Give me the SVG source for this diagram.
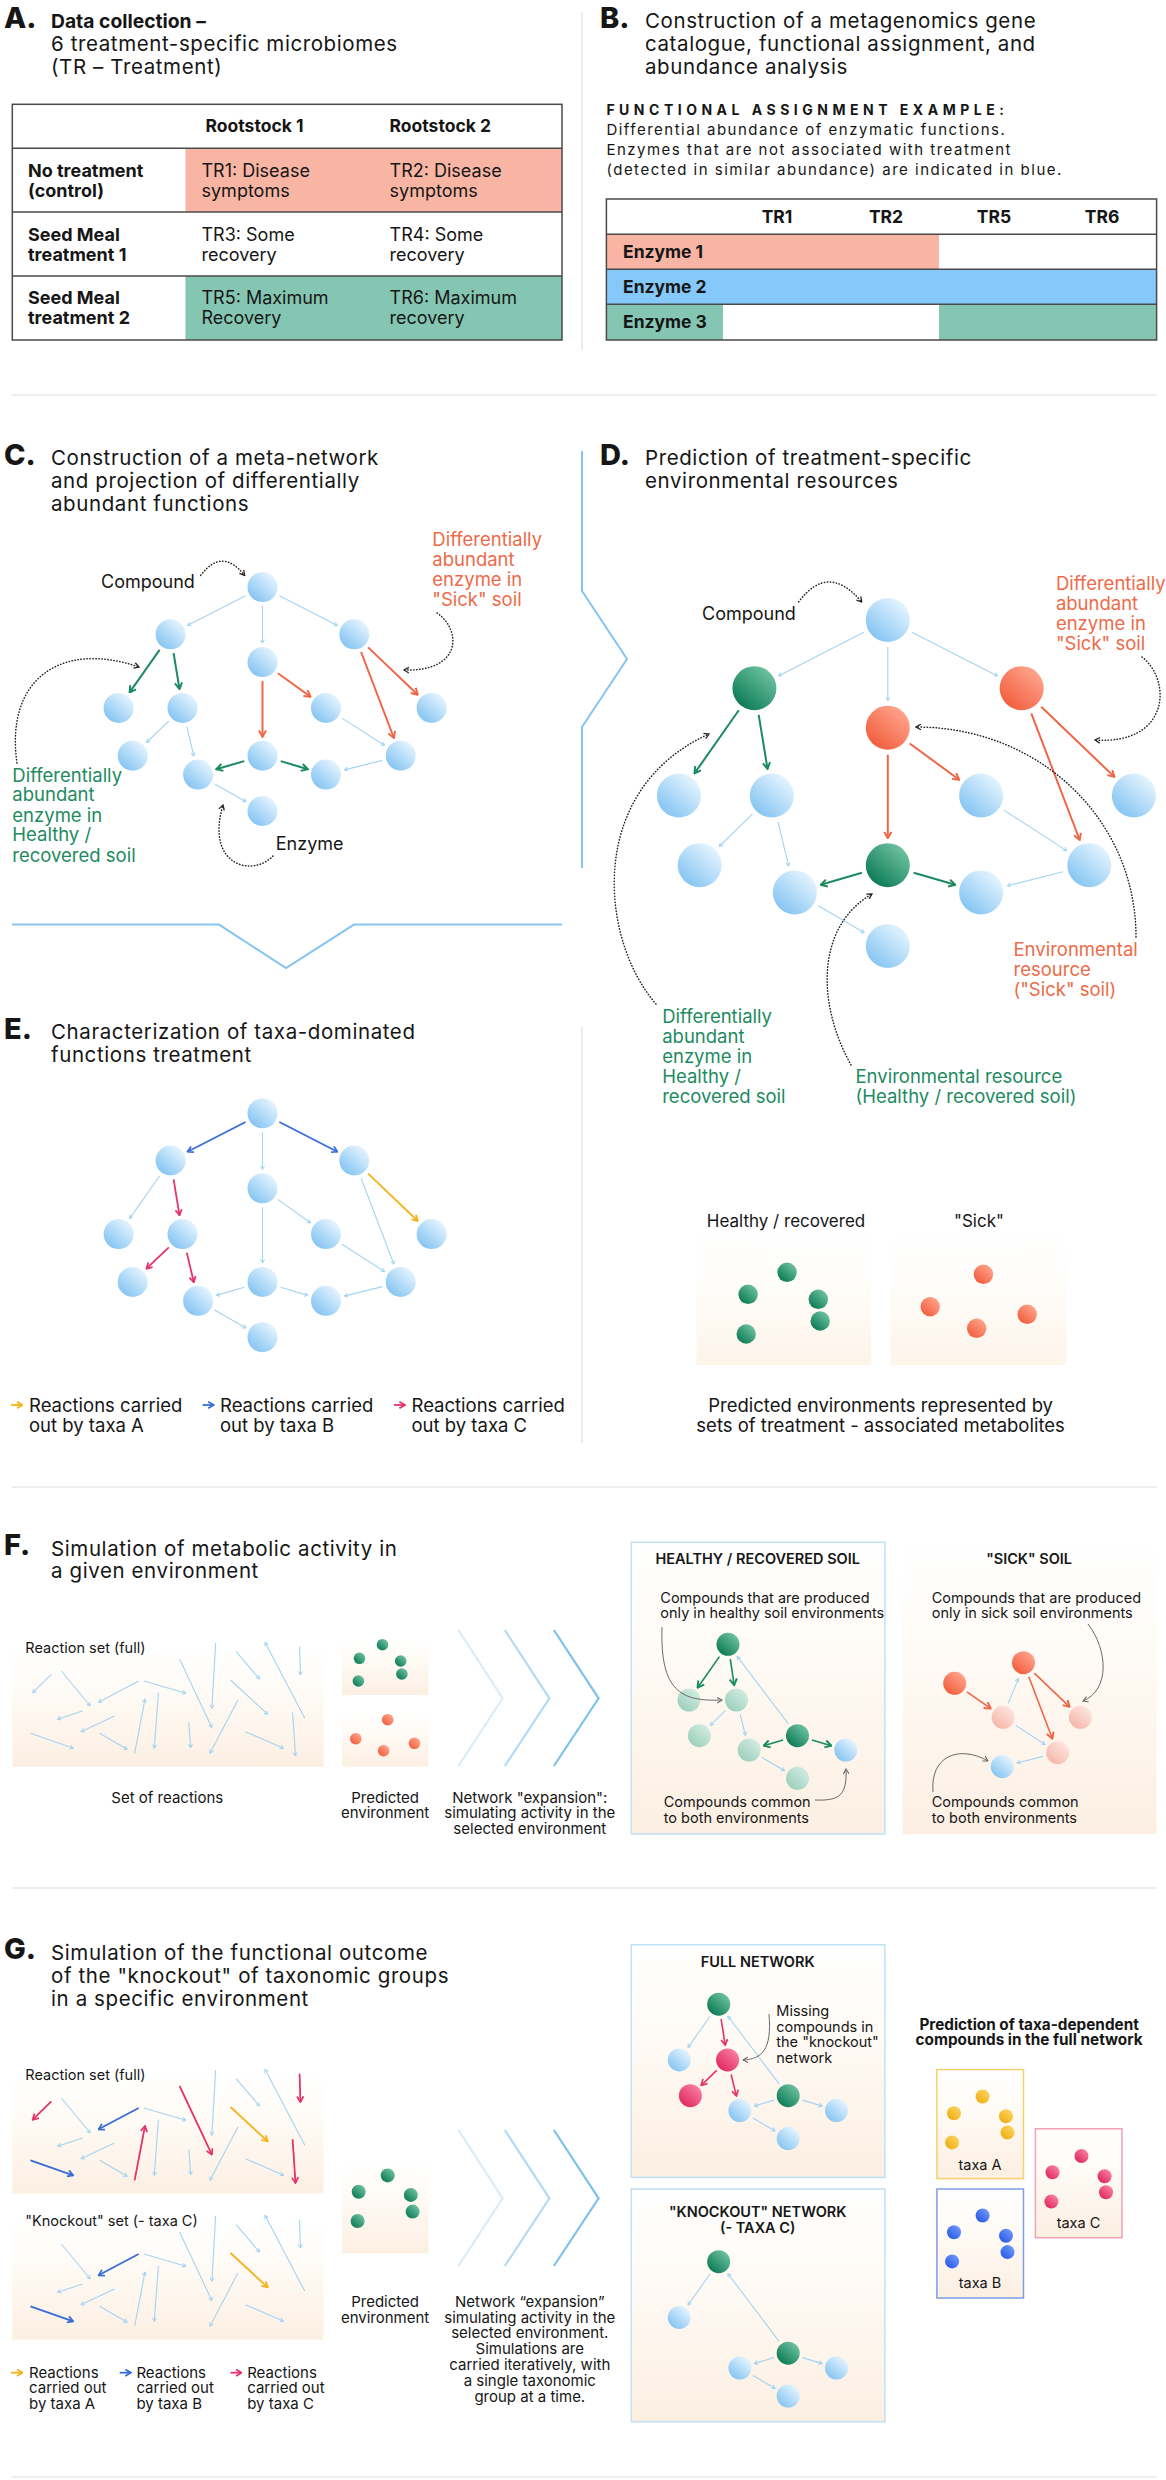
<svg xmlns="http://www.w3.org/2000/svg" width="1166" height="2480" viewBox="0 0 1166 2480">
<defs>
<style>
text{font-family:Inter,"Liberation Sans",Arial,sans-serif;fill:#161616}
.L{font-size:29px;font-weight:800}
.h{font-size:20.5px;letter-spacing:0.6px}
.hb{font-size:19.3px;font-weight:700}
.s18{font-size:18px}
.s185{font-size:18.5px}
.s17{font-size:18px}
.s15{font-size:15px}
.s145{font-size:14.5px}
.s14{font-size:14px}
.s13{font-size:14.5px}
.b{font-weight:700}
.sb{font-weight:600}
.m{text-anchor:middle}
.or{fill:#ee6a48}
.gn{fill:#1d8a60}
.sep{stroke:#e8e8e8;stroke-width:1.5;fill:none}
.vb{stroke:#85c5f0;stroke-width:2;fill:none}
.tb{fill:none;stroke:#4a4a4a;stroke-width:1.5}
.lb{fill:none;stroke:#a3d4f2;stroke-width:1.1;marker-end:url(#aLb)}
.gr{fill:none;stroke:#1b8a5f;stroke-width:2;marker-end:url(#aGr)}
.og{fill:none;stroke:#ef6646;stroke-width:2;marker-end:url(#aOr)}
.bl{fill:none;stroke:#3a6cd8;stroke-width:1.8;marker-end:url(#aBl)}
.cr{fill:none;stroke:#e2356a;stroke-width:1.8;marker-end:url(#aCr)}
.ye{fill:none;stroke:#f3b31b;stroke-width:1.8;marker-end:url(#aYe)}
.dt{fill:none;stroke:#222;stroke-width:1.5;stroke-linecap:round;stroke-dasharray:0.4 2.6;marker-end:url(#aDk)}
.pt{fill:none;stroke:#6a6a6a;stroke-width:1;marker-end:url(#aGy)}
.nB{fill:url(#gB)}
.nG{fill:url(#gG)}
.nO{fill:url(#gO)}
.nPG{fill:url(#gPG)}
.nPP{fill:url(#gPP)}
.nC{fill:url(#gC)}
.nY{fill:url(#gY)}
.nD{fill:url(#gD)}
.bx{fill:url(#gBox)}
.bxl{fill:url(#gBoxL)}
.bxb{fill:url(#gBox);stroke:#bfe0f6;stroke-width:1.5}
.chev{fill:none;stroke:#7fc1ee;stroke-width:2.2}
</style>
<linearGradient id="gB" x1="0.85" y1="0.1" x2="0.15" y2="0.9"><stop offset="0" stop-color="#e6f5ff"/><stop offset="1" stop-color="#84c4f2"/></linearGradient>
<linearGradient id="gG" x1="0.85" y1="0.1" x2="0.15" y2="0.9"><stop offset="0" stop-color="#6ec2a2"/><stop offset="1" stop-color="#0c7a55"/></linearGradient>
<linearGradient id="gO" x1="0.85" y1="0.1" x2="0.15" y2="0.9"><stop offset="0" stop-color="#ffa58d"/><stop offset="1" stop-color="#f25d3d"/></linearGradient>
<linearGradient id="gPG" x1="0.85" y1="0.1" x2="0.15" y2="0.9"><stop offset="0" stop-color="#d3ece3"/><stop offset="1" stop-color="#9ccfbb"/></linearGradient>
<linearGradient id="gPP" x1="0.85" y1="0.1" x2="0.15" y2="0.9"><stop offset="0" stop-color="#fde6e0"/><stop offset="1" stop-color="#f6b6a9"/></linearGradient>
<linearGradient id="gC" x1="0.85" y1="0.1" x2="0.15" y2="0.9"><stop offset="0" stop-color="#f97fa2"/><stop offset="1" stop-color="#e0285f"/></linearGradient>
<linearGradient id="gY" x1="0.85" y1="0.1" x2="0.15" y2="0.9"><stop offset="0" stop-color="#fbd55e"/><stop offset="1" stop-color="#f2ad14"/></linearGradient>
<linearGradient id="gD" x1="0.85" y1="0.1" x2="0.15" y2="0.9"><stop offset="0" stop-color="#6f96fa"/><stop offset="1" stop-color="#2a5ce6"/></linearGradient>
<linearGradient id="gBox" x1="0" y1="0" x2="0" y2="1"><stop offset="0" stop-color="#ffffff"/><stop offset="0.3" stop-color="#fffcf8"/><stop offset="1" stop-color="#fcefe2"/></linearGradient>
<linearGradient id="gBoxL" x1="0" y1="0" x2="0" y2="1"><stop offset="0" stop-color="#ffffff"/><stop offset="0.4" stop-color="#fffdfa"/><stop offset="1" stop-color="#fdf4ea"/></linearGradient>
<marker id="aLb" viewBox="0 0 10 10" refX="9" refY="5" markerWidth="5" markerHeight="5" orient="auto" markerUnits="userSpaceOnUse"><path d="M2,1 L9,5 L2,9" fill="none" stroke="#a3d4f2" stroke-width="2"/></marker>
<marker id="aGr" viewBox="0 0 10 10" refX="9" refY="5" markerWidth="9" markerHeight="9" orient="auto" markerUnits="userSpaceOnUse"><path d="M2,1 L9,5 L2,9" fill="none" stroke="#1b8a5f" stroke-width="2.2"/></marker>
<marker id="aOr" viewBox="0 0 10 10" refX="9" refY="5" markerWidth="9" markerHeight="9" orient="auto" markerUnits="userSpaceOnUse"><path d="M2,1 L9,5 L2,9" fill="none" stroke="#ef6646" stroke-width="2.2"/></marker>
<marker id="aBl" viewBox="0 0 10 10" refX="9" refY="5" markerWidth="8" markerHeight="8" orient="auto" markerUnits="userSpaceOnUse"><path d="M2,1 L9,5 L2,9" fill="none" stroke="#3a6cd8" stroke-width="2.2"/></marker>
<marker id="aCr" viewBox="0 0 10 10" refX="9" refY="5" markerWidth="8" markerHeight="8" orient="auto" markerUnits="userSpaceOnUse"><path d="M2,1 L9,5 L2,9" fill="none" stroke="#e2356a" stroke-width="2.2"/></marker>
<marker id="aYe" viewBox="0 0 10 10" refX="9" refY="5" markerWidth="8" markerHeight="8" orient="auto" markerUnits="userSpaceOnUse"><path d="M2,1 L9,5 L2,9" fill="none" stroke="#f3b31b" stroke-width="2.2"/></marker>
<marker id="aDk" viewBox="0 0 10 10" refX="9" refY="5" markerWidth="7" markerHeight="7" orient="auto" markerUnits="userSpaceOnUse"><path d="M2,1 L9,5 L2,9" fill="none" stroke="#222" stroke-width="1.8"/></marker>
<marker id="aGy" viewBox="0 0 10 10" refX="9" refY="5" markerWidth="7" markerHeight="7" orient="auto" markerUnits="userSpaceOnUse"><path d="M2,1 L9,5 L2,9" fill="none" stroke="#6a6a6a" stroke-width="1.6"/></marker>
</defs>
<rect width="1166" height="2480" fill="#ffffff"/>

<!-- separators and frames -->
<g id="frames">
<path class="sep" d="M12,395 H1157 M12,1487 H1157 M12,1888 H1157 M12,2477 H1157 M582,12 V350 M582,1027 V1443"/>
<path class="vb" d="M12,924.6 H219 L286,968 L354,924.6 H562"/>
<path class="vb" d="M582,451 V591 L627,659 L582,727 V868"/>
</g>

<!-- A -->
<g id="sectionA">
<text class="L" x="4" y="27.5">A.</text>
<text class="hb" x="51" y="27.5">Data collection –</text>
<text class="h" x="51" y="50.7">6 treatment-specific microbiomes</text>
<text class="h" x="51" y="74">(TR – Treatment)</text>
<rect x="185.5" y="148.3" width="376.5" height="63.7" fill="#f9b5a4"/>
<rect x="185.5" y="276" width="376.5" height="64" fill="#85c6b3"/>
<rect class="tb" x="12.3" y="104.3" width="549.7" height="235.7"/>
<path class="tb" d="M12.3,148.3 H562 M12.3,212 H562 M12.3,276 H562"/>
<text class="s17 b" x="205.6" y="132.3" style="font-size:17.5px">Rootstock 1</text>
<text class="s17 b" x="389.6" y="132.3" style="font-size:17.5px">Rootstock 2</text>
<text class="s17 b" x="28" y="176.7">No treatment<tspan x="28" y="196.7">(control)</tspan></text>
<text class="s17" x="201.5" y="176.7">TR1: Disease<tspan x="201.5" y="196.7">symptoms</tspan></text>
<text class="s17" x="389.6" y="176.7">TR2: Disease<tspan x="389.6" y="196.7">symptoms</tspan></text>
<text class="s17 b" x="28" y="240.7">Seed Meal<tspan x="28" y="260.7">treatment 1</tspan></text>
<text class="s17" x="201.5" y="240.7">TR3: Some<tspan x="201.5" y="260.7">recovery</tspan></text>
<text class="s17" x="389.6" y="240.7">TR4: Some<tspan x="389.6" y="260.7">recovery</tspan></text>
<text class="s17 b" x="28" y="304.3">Seed Meal<tspan x="28" y="324.3">treatment 2</tspan></text>
<text class="s17" x="201.5" y="304.3">TR5: Maximum<tspan x="201.5" y="324.3">Recovery</tspan></text>
<text class="s17" x="389.6" y="304.3">TR6: Maximum<tspan x="389.6" y="324.3">recovery</tspan></text>
</g>

<!-- B -->
<g id="sectionB">
<text class="L" x="600" y="27.5">B.</text>
<text class="h" x="645" y="27.5">Construction of a metagenomics gene<tspan x="645" y="50.7">catalogue, functional assignment, and</tspan><tspan x="645" y="74">abundance analysis</tspan></text>
<text class="s14 b" x="606.4" y="115" style="letter-spacing:4.5px">FUNCTIONAL ASSIGNMENT EXAMPLE:</text>
<text class="s15" x="606.4" y="135" style="letter-spacing:1.5px">Differential abundance of enzymatic functions.<tspan x="606.4" y="155">Enzymes that are not associated with treatment</tspan><tspan x="606.4" y="175">(detected in similar abundance) are indicated in blue.</tspan></text>
<rect x="606.4" y="234.3" width="332.6" height="35" fill="#f9b5a4"/>
<rect x="606.4" y="269.3" width="550.2" height="35" fill="#85c8fa"/>
<rect x="606.4" y="304.3" width="116.6" height="35.7" fill="#85c6b3"/>
<rect x="939" y="304.3" width="217.6" height="35.7" fill="#85c6b3"/>
<rect class="tb" x="606.4" y="199" width="550.2" height="141"/>
<path class="tb" d="M606.4,234.3 H1156.6 M606.4,269.3 H1156.6 M606.4,304.3 H1156.6"/>
<text class="b m" x="777" y="222.7" style="font-size:17.5px">TR1</text>
<text class="b m" x="886" y="222.7" style="font-size:17.5px">TR2</text>
<text class="b m" x="994" y="222.7" style="font-size:17.5px">TR5</text>
<text class="b m" x="1102" y="222.7" style="font-size:17.5px">TR6</text>
<text class="b" x="623" y="257.7" style="font-size:17.5px">Enzyme 1</text>
<text class="b" x="623" y="292.7" style="font-size:17.5px">Enzyme 2</text>
<text class="b" x="623" y="328" style="font-size:17.5px">Enzyme 3</text>
</g>

<!-- C -->
<g id="sectionC">
<text class="L" x="4" y="465">C.</text>
<text class="h" x="51" y="465">Construction of a meta-network<tspan x="51" y="488">and projection of differentially</tspan><tspan x="51" y="511">abundant functions</tspan></text>
<g id="C-edges">
<path class="lb" d="M245.6,595.8L187.5,625.6"/>
<path class="lb" d="M262.5,606.1L262.5,643.1"/>
<path class="lb" d="M279.4,595.8L337.4,625.6"/>
<path class="gr" d="M159.6,649.8L129.6,692.4"/>
<path class="gr" d="M173.6,653.1L179.5,689.1"/>
<path class="og" d="M262.5,681.1L262.5,736.7"/>
<path class="og" d="M277.9,673.2L310.6,696.8"/>
<path class="og" d="M361.1,652L393.9,738"/>
<path class="og" d="M368.1,647.4L417.8,694.8"/>
<path class="lb" d="M168.8,721.1L146.4,742.5"/>
<path class="lb" d="M186.8,726.4L193.8,756.1"/>
<path class="gr" d="M244.3,761.1L216.3,769.2"/>
<path class="gr" d="M280.7,761.1L307.8,769.2"/>
<path class="lb" d="M342,718.1L384.7,745.5"/>
<path class="lb" d="M382.3,760.4L344.4,769.9"/>
<path class="lb" d="M214.6,783.9L246,801.7"/>
<path class="dt" d="M200.7,575.4 Q222,547 244.6,575.4"/>
<path class="dt" d="M437,613 C462,630 462,672 404,670"/>
<path class="dt" d="M17,763 C5,680 60,640 139,667"/>
<path class="dt" d="M273,856 C252,878 205,865 223,805"/>
</g>
<g id="C-n0"><circle class="nB" cx="262.5" cy="587.1" r="15"/></g>
<g id="C-n1"><circle class="nB" cx="170.6" cy="634.3" r="15"/></g>
<g id="C-n2"><circle class="nB" cx="354.3" cy="634.3" r="15"/></g>
<g id="C-n3"><circle class="nB" cx="262.5" cy="662.1" r="15"/></g>
<g id="C-n4"><circle class="nB" cx="118.6" cy="707.9" r="15"/></g>
<g id="C-n5"><circle class="nB" cx="182.5" cy="707.9" r="15"/></g>
<g id="C-n6"><circle class="nB" cx="326" cy="707.9" r="15"/></g>
<g id="C-n7"><circle class="nB" cx="431.6" cy="707.9" r="15"/></g>
<g id="C-n8"><circle class="nB" cx="132.7" cy="755.7" r="15"/></g>
<g id="C-n9"><circle class="nB" cx="198.1" cy="774.6" r="15"/></g>
<g id="C-n10"><circle class="nB" cx="262.5" cy="755.7" r="15"/></g>
<g id="C-n11"><circle class="nB" cx="326" cy="774.6" r="15"/></g>
<g id="C-n12"><circle class="nB" cx="400.7" cy="755.7" r="15"/></g>
<g id="C-n13"><circle class="nB" cx="262.5" cy="811" r="15"/></g>
<text class="s18" x="101" y="588">Compound</text>
<text class="s185 or" x="432.3" y="545.7">Differentially<tspan x="432.3" y="565.7">abundant</tspan><tspan x="432.3" y="586">enzyme in</tspan><tspan x="432.3" y="605.7">"Sick" soil</tspan></text>
<text class="s185 gn" x="12.3" y="781.8">Differentially<tspan x="12.3" y="801.4">abundant</tspan><tspan x="12.3" y="821.8">enzyme in</tspan><tspan x="12.3" y="841.4">Healthy /</tspan><tspan x="12.3" y="861.8">recovered soil</tspan></text>
<text class="s18" x="275.8" y="849.6">Enzyme</text>
</g>

<!-- D -->
<g id="sectionD">
<text class="L" x="600" y="465">D.</text>
<text class="h" x="645" y="465">Prediction of treatment-specific<tspan x="645" y="488">environmental resources</tspan></text>
<g id="D-edges">
<path class="lb" d="M863.8,632.3L778.4,675.9"/>
<path class="lb" d="M887.8,647L887.8,700.7"/>
<path class="lb" d="M911.8,632.3L997.7,675.9"/>
<path class="gr" d="M738.8,710.3L694.5,773.4"/>
<path class="gr" d="M758.7,714.8L767.5,768.9"/>
<path class="og" d="M887.8,754.7L887.8,838.2"/>
<path class="og" d="M909.7,743.5L959.2,779.7"/>
<path class="og" d="M1031.3,713.4L1079.7,840"/>
<path class="og" d="M1041.2,706.8L1114.4,776.9"/>
<path class="lb" d="M752.3,814.2L719.2,846.5"/>
<path class="lb" d="M778,821.8L788.7,866.1"/>
<path class="gr" d="M861.9,872.8L820.8,884.8"/>
<path class="gr" d="M913.7,872.8L955.2,884.8"/>
<path class="lb" d="M1003.8,810.1L1066.6,850.6"/>
<path class="lb" d="M1063.1,871.8L1007.3,885.8"/>
<path class="lb" d="M818.4,905.7L864.3,932.7"/>
<path class="dt" d="M798.6,602 Q828,562 861.8,602"/>
<path class="dt" d="M1142,657 C1172,680 1170,745 1095,740"/>
<path class="dt" d="M1136,937 C1136,820 1040,727 916,727"/>
<path class="dt" d="M656,1004 C600,940 585,790 709,734"/>
<path class="dt" d="M851,1065 C815,1000 818,925 872,894"/>
</g>
<g id="D-n0"><circle class="nB" cx="887.8" cy="620" r="22"/></g>
<g id="D-n1"><circle class="nG" cx="754.4" cy="688.2" r="22"/></g>
<g id="D-n2"><circle class="nO" cx="1021.7" cy="688.2" r="22"/></g>
<g id="D-n3"><circle class="nO" cx="887.8" cy="727.7" r="22"/></g>
<g id="D-n4"><circle class="nB" cx="678.9" cy="795.5" r="22"/></g>
<g id="D-n5"><circle class="nB" cx="771.8" cy="795.5" r="22"/></g>
<g id="D-n6"><circle class="nB" cx="981.1" cy="795.5" r="22"/></g>
<g id="D-n7"><circle class="nB" cx="1133.9" cy="795.5" r="22"/></g>
<g id="D-n8"><circle class="nB" cx="699.7" cy="865.2" r="22"/></g>
<g id="D-n9"><circle class="nB" cx="794.9" cy="892.4" r="22"/></g>
<g id="D-n10"><circle class="nG" cx="887.8" cy="865.2" r="22"/></g>
<g id="D-n11"><circle class="nB" cx="981.1" cy="892.4" r="22"/></g>
<g id="D-n12"><circle class="nB" cx="1089.3" cy="865.2" r="22"/></g>
<g id="D-n13"><circle class="nB" cx="887.8" cy="946" r="22"/></g>
<text class="s18" x="702" y="620">Compound</text>
<text class="s185 or" x="1055.9" y="589.7">Differentially<tspan x="1055.9" y="610">abundant</tspan><tspan x="1055.9" y="630.3">enzyme in</tspan><tspan x="1055.9" y="650.3">"Sick" soil</tspan></text>
<text class="s185 or" x="1013.5" y="955.6">Environmental<tspan x="1013.5" y="975.6">resource</tspan><tspan x="1013.5" y="995.5">("Sick" soil)</tspan></text>
<text class="s185 gn" x="662.2" y="1022.7">Differentially<tspan x="662.2" y="1042.7">abundant</tspan><tspan x="662.2" y="1062.7">enzyme in</tspan><tspan x="662.2" y="1082.7">Healthy /</tspan><tspan x="662.2" y="1102.7">recovered soil</tspan></text>
<text class="s185 gn" x="855.5" y="1082.7">Environmental resource<tspan x="855.5" y="1102.7">(Healthy / recovered soil)</tspan></text>
<g id="D-env-healthy">
<rect class="bxl" x="696.4" y="1230" width="174.7" height="135"/>
<text x="706.8" y="1226.7" style="font-size:17px">Healthy / recovered</text>
<circle class="nG" cx="787.1" cy="1272.3" r="9.7"/>
<circle class="nG" cx="748.1" cy="1294.3" r="9.7"/>
<circle class="nG" cx="818.3" cy="1299.3" r="9.7"/>
<circle class="nG" cx="820.2" cy="1321" r="9.7"/>
<circle class="nG" cx="746.2" cy="1334" r="9.7"/>
</g>
<g id="D-env-sick">
<rect class="bxl" x="890.8" y="1230" width="175.5" height="135"/>
<text class="m" x="979" y="1226.7" style="font-size:17px">"Sick"</text>
<circle class="nO" cx="983.4" cy="1274.3" r="9.7"/>
<circle class="nO" cx="930.2" cy="1306.7" r="9.7"/>
<circle class="nO" cx="1027.2" cy="1314.3" r="9.7"/>
<circle class="nO" cx="976.7" cy="1328.3" r="9.7"/>
</g>
<text class="m" x="880.6" y="1411.7" style="font-size:18.5px">Predicted environments represented by<tspan x="880.6" y="1431.7">sets of treatment - associated metabolites</tspan></text>
</g>

<!-- E -->
<g id="sectionE">
<text class="L" x="4" y="1039.3">E.</text>
<text class="h" x="51" y="1039.3">Characterization of taxa-dominated<tspan x="51" y="1061.7">functions treatment</tspan></text>
<g transform="translate(0,526.2)">
<g id="E-edges">
<path class="bl" d="M245.6,595.8L187.5,625.6"/>
<path class="lb" d="M262.5,606.1L262.5,643.1"/>
<path class="bl" d="M279.4,595.8L337.4,625.6"/>
<path class="lb" d="M159.6,649.8L129.6,692.4"/>
<path class="cr" d="M173.6,653.1L179.5,689.1"/>
<path class="lb" d="M262.5,681.1L262.5,736.7"/>
<path class="lb" d="M277.9,673.2L310.6,696.8"/>
<path class="lb" d="M361.1,652L393.9,738"/>
<path class="ye" d="M368.1,647.4L417.8,694.8"/>
<path class="cr" d="M168.8,721.1L146.4,742.5"/>
<path class="cr" d="M186.8,726.4L193.8,756.1"/>
<path class="lb" d="M244.3,761.1L216.3,769.2"/>
<path class="lb" d="M280.7,761.1L307.8,769.2"/>
<path class="lb" d="M342,718.1L384.7,745.5"/>
<path class="lb" d="M382.3,760.4L344.4,769.9"/>
<path class="lb" d="M214.6,783.9L246,801.7"/>
</g>
<g id="E-n0"><circle class="nB" cx="262.5" cy="587.1" r="15"/></g>
<g id="E-n1"><circle class="nB" cx="170.6" cy="634.3" r="15"/></g>
<g id="E-n2"><circle class="nB" cx="354.3" cy="634.3" r="15"/></g>
<g id="E-n3"><circle class="nB" cx="262.5" cy="662.1" r="15"/></g>
<g id="E-n4"><circle class="nB" cx="118.6" cy="707.9" r="15"/></g>
<g id="E-n5"><circle class="nB" cx="182.5" cy="707.9" r="15"/></g>
<g id="E-n6"><circle class="nB" cx="326" cy="707.9" r="15"/></g>
<g id="E-n7"><circle class="nB" cx="431.6" cy="707.9" r="15"/></g>
<g id="E-n8"><circle class="nB" cx="132.7" cy="755.7" r="15"/></g>
<g id="E-n9"><circle class="nB" cx="198.1" cy="774.6" r="15"/></g>
<g id="E-n10"><circle class="nB" cx="262.5" cy="755.7" r="15"/></g>
<g id="E-n11"><circle class="nB" cx="326" cy="774.6" r="15"/></g>
<g id="E-n12"><circle class="nB" cx="400.7" cy="755.7" r="15"/></g>
<g id="E-n13"><circle class="nB" cx="262.5" cy="811" r="15"/></g>
</g>
<g id="E-legend">
<path class="ye" d="M11,1405 L22.5,1405"/>
<text class="s185" x="29" y="1411.7">Reactions carried<tspan x="29" y="1431.7">out by taxa A</tspan></text>
<path class="bl" d="M202.6,1405 L213.8,1405"/>
<text class="s185" x="220" y="1411.7">Reactions carried<tspan x="220" y="1431.7">out by taxa B</tspan></text>
<path class="cr" d="M394,1405 L405,1405"/>
<text class="s185" x="411.5" y="1411.7">Reactions carried<tspan x="411.5" y="1431.7">out by taxa C</tspan></text>
</g>
</g>

<!-- F -->
<g id="sectionF">
<text class="L" x="4" y="1555">F.</text>
<text class="h" x="51" y="1556">Simulation of  metabolic activity in<tspan x="51" y="1578">a given environment</tspan></text>
<g id="F-reactionset">
<rect class="bx" x="12.3" y="1646.7" width="311.1" height="120"/>
<text class="s145" x="25.3" y="1652.7">Reaction set (full)</text>
<path class="lb" d="M51.3,1674.3L32.7,1692.7"/>
<path class="lb" d="M61.3,1671L90.3,1706"/>
<path class="lb" d="M138.7,1681L98.5,1702.3"/>
<path class="lb" d="M143.9,1681L185.9,1693.3"/>
<path class="lb" d="M179.6,1659L211.9,1727.7"/>
<path class="lb" d="M215.6,1643L211.9,1708.3"/>
<path class="lb" d="M236.1,1651.7L259.5,1679"/>
<path class="lb" d="M304.8,1718.3L265,1642.3"/>
<path class="lb" d="M299.6,1646.7L300.4,1675"/>
<path class="lb" d="M230.5,1680L267.7,1714.3"/>
<path class="lb" d="M82.5,1711L57.6,1719.3"/>
<path class="lb" d="M114.5,1716L81,1731.7"/>
<path class="lb" d="M30.5,1733.3L73.2,1748.3"/>
<path class="lb" d="M99.6,1733.3L127.1,1749.3"/>
<path class="lb" d="M134.6,1753.3L145,1699"/>
<path class="lb" d="M158.4,1692.7L154.3,1748.3"/>
<path class="lb" d="M188.8,1722.3L190.7,1747.7"/>
<path class="lb" d="M237.9,1700L210,1753.3"/>
<path class="lb" d="M245.4,1731.7L283.6,1748.3"/>
<path class="lb" d="M292.6,1712.3L295.5,1756"/>
<text class="s15 m" x="167.3" y="1802.7">Set of reactions</text>
</g>
<g id="F-predenv">
<rect class="bx" x="342" y="1640" width="86.6" height="55"/>
<rect class="bx" x="342" y="1711.7" width="86.6" height="55"/>
<circle class="nG" cx="382.5" cy="1644.7" r="5.8"/>
<circle class="nG" cx="359.5" cy="1658.3" r="5.8"/>
<circle class="nG" cx="400.7" cy="1661" r="5.8"/>
<circle class="nG" cx="401.9" cy="1674" r="5.8"/>
<circle class="nG" cx="358.4" cy="1681" r="5.8"/>
<circle class="nO" cx="387.7" cy="1719.7" r="5.8"/>
<circle class="nO" cx="355.8" cy="1738.7" r="5.8"/>
<circle class="nO" cx="414.5" cy="1743.3" r="5.8"/>
<circle class="nO" cx="383.6" cy="1750.7" r="5.8"/>
<text class="s15 m" x="385.1" y="1802.7">Predicted<tspan x="385.1" y="1818.3">environment</tspan></text>
</g>
<g id="F-chevrons">
<path class="chev" opacity="0.3" d="M458.4,1630 L502.6,1698.3 L458.4,1766"/>
<path class="chev" opacity="0.6" d="M504.8,1630 L549.4,1698.3 L504.8,1766"/>
<path class="chev" d="M553.9,1630 L598.6,1698.3 L553.9,1766"/>
<text class="s15 m" x="529.8" y="1802.7">Network "expansion":<tspan x="529.8" y="1818.3">simulating activity in the</tspan><tspan x="529.8" y="1834">selected environment</tspan></text>
</g>
<g id="F-healthy">
<rect class="bxb" x="631.3" y="1542.3" width="253.6" height="291.7"/>
<text class="s13 sb m" x="757.7" y="1564">HEALTHY / RECOVERED SOIL</text>
<text class="s145" x="660.3" y="1602.7">Compounds that are produced<tspan x="660.3" y="1618.3">only in healthy soil environments</tspan></text>
<path class="gr" style="stroke-width:1.6" d="M719.4,1656.6L697.6,1687.7"/>
<path class="gr" style="stroke-width:1.6" d="M730.3,1659.1L734.2,1685.2"/>
<path class="lb" d="M725.7,1710.4L710.2,1725.3"/>
<path class="lb" d="M740.2,1714.5L745.5,1735.5"/>
<path class="gr" style="stroke-width:1.6" d="M783.1,1740L763.6,1745.7"/>
<path class="gr" style="stroke-width:1.6" d="M811.9,1740L831.4,1745.7"/>
<path class="lb" d="M788.4,1723.8L737.1,1656.3"/>
<path class="lb" d="M762.1,1757.6L784.6,1770.7"/>
<g id="F-h0"><circle class="nG" cx="728" cy="1644.3" r="11.5"/></g>
<g id="F-h1"><circle class="nPG" cx="689" cy="1700" r="11.5"/></g>
<g id="F-h2"><circle class="nPG" cx="736.5" cy="1700" r="11.5"/></g>
<g id="F-h3"><circle class="nPG" cx="699.4" cy="1735.7" r="11.5"/></g>
<g id="F-h4"><circle class="nPG" cx="749.2" cy="1750" r="11.5"/></g>
<g id="F-h5"><circle class="nG" cx="797.5" cy="1735.7" r="11.5"/></g>
<g id="F-h6"><circle class="nB" cx="845.8" cy="1750" r="11.5"/></g>
<g id="F-h7"><circle class="nPG" cx="797.5" cy="1778.3" r="11.5"/></g>
<path class="pt" d="M662,1627 C660,1690 680,1702 722,1700"/>
<path class="pt" d="M815,1800 C840,1801 847,1795 846,1769"/>
<text class="s145" x="663.7" y="1807.3">Compounds common<tspan x="663.7" y="1822.7">to both environments</tspan></text>
</g>
<g id="F-sick">
<rect class="bx" x="902.7" y="1542.3" width="253.9" height="291.7"/>
<text class="s13 sb m" x="1029.1" y="1564">"SICK" SOIL</text>
<text class="s145" x="931.7" y="1602.7">Compounds that are produced<tspan x="931.7" y="1618.3">only in sick soil environments</tspan></text>
<path class="og" style="stroke-width:1.6" d="M967,1691.9L990.8,1708.7"/>
<path class="og" style="stroke-width:1.6" d="M1034.3,1673.1L1069.6,1706.9"/>
<path class="og" style="stroke-width:1.6" d="M1028.8,1676.7L1052.4,1738.7"/>
<path class="lb" d="M1008.3,1703.2L1018.3,1678.6"/>
<path class="lb" d="M1015.7,1725.5L1045.1,1744.5"/>
<path class="lb" d="M1043.1,1756.4L1016.9,1763"/>
<g id="F-s0"><circle class="nO" cx="1023.5" cy="1662.7" r="11.5"/></g>
<g id="F-s1"><circle class="nO" cx="954.7" cy="1683.3" r="11.5"/></g>
<g id="F-s2"><circle class="nPP" cx="1003.1" cy="1717.3" r="11.5"/></g>
<g id="F-s3"><circle class="nPP" cx="1080.4" cy="1717.3" r="11.5"/></g>
<g id="F-s4"><circle class="nPP" cx="1057.7" cy="1752.7" r="11.5"/></g>
<g id="F-s5"><circle class="nB" cx="1002.3" cy="1766.7" r="11.5"/></g>
<path class="pt" d="M1088,1624 C1108,1650 1110,1690 1083,1701"/>
<path class="pt" d="M933,1792 C930,1755 960,1745 988,1761"/>
<text class="s145" x="931.7" y="1807.3">Compounds common<tspan x="931.7" y="1822.7">to both environments</tspan></text>
</g>
</g>

<!-- G -->
<g id="sectionG">
<text class="L" x="4" y="1958.7">G.</text>
<text class="h" x="51" y="1959.5">Simulation of  the functional outcome<tspan x="51" y="1982.8">of the "knockout" of taxonomic groups</tspan><tspan x="51" y="2006.2">in a specific environment</tspan></text>
<g id="G-fullset" transform="translate(0,427)">
<rect class="bx" x="12.3" y="1646.7" width="311.1" height="120"/>
<text class="s145" x="25.3" y="1652.7">Reaction set (full)</text>
<path class="cr" d="M51.3,1674.3L32.7,1692.7"/>
<path class="lb" d="M61.3,1671L90.3,1706"/>
<path class="bl" d="M138.7,1681L98.5,1702.3"/>
<path class="lb" d="M143.9,1681L185.9,1693.3"/>
<path class="cr" d="M179.6,1659L211.9,1727.7"/>
<path class="lb" d="M215.6,1643L211.9,1708.3"/>
<path class="lb" d="M236.1,1651.7L259.5,1679"/>
<path class="lb" d="M304.8,1718.3L265,1642.3"/>
<path class="cr" d="M299.6,1646.7L300.4,1675"/>
<path class="ye" d="M230.5,1680L267.7,1714.3"/>
<path class="lb" d="M82.5,1711L57.6,1719.3"/>
<path class="lb" d="M114.5,1716L81,1731.7"/>
<path class="bl" d="M30.5,1733.3L73.2,1748.3"/>
<path class="lb" d="M99.6,1733.3L127.1,1749.3"/>
<path class="cr" d="M134.6,1753.3L145,1699"/>
<path class="lb" d="M158.4,1692.7L154.3,1748.3"/>
<path class="lb" d="M188.8,1722.3L190.7,1747.7"/>
<path class="lb" d="M237.9,1700L210,1753.3"/>
<path class="lb" d="M245.4,1731.7L283.6,1748.3"/>
<path class="cr" d="M292.6,1712.3L295.5,1756"/>
</g>
<g id="G-koset" transform="translate(0,573)">
<rect class="bx" x="12.3" y="1646.7" width="311.1" height="120"/>
<text class="s145" x="25.3" y="1652.7">"Knockout" set (- taxa C)</text>
<path class="lb" d="M61.3,1671L90.3,1706"/>
<path class="bl" d="M138.7,1681L98.5,1702.3"/>
<path class="lb" d="M143.9,1681L185.9,1693.3"/>
<path class="lb" d="M179.6,1659L211.9,1727.7"/>
<path class="lb" d="M215.6,1643L211.9,1708.3"/>
<path class="lb" d="M236.1,1651.7L259.5,1679"/>
<path class="lb" d="M304.8,1718.3L265,1642.3"/>
<path class="lb" d="M299.6,1646.7L300.4,1675"/>
<path class="ye" d="M230.5,1680L267.7,1714.3"/>
<path class="lb" d="M82.5,1711L57.6,1719.3"/>
<path class="lb" d="M114.5,1716L81,1731.7"/>
<path class="bl" d="M30.5,1733.3L73.2,1748.3"/>
<path class="lb" d="M99.6,1733.3L127.1,1749.3"/>
<path class="lb" d="M134.6,1753.3L145,1699"/>
<path class="lb" d="M158.4,1692.7L154.3,1748.3"/>
<path class="lb" d="M237.9,1700L210,1753.3"/>
<path class="lb" d="M245.4,1731.7L283.6,1748.3"/>
</g>
<g id="G-legend">
<path class="ye" d="M11,2372.7 L22.5,2372.7"/>
<text class="s15" x="29" y="2377.8">Reactions<tspan x="29" y="2393.4">carried out</tspan><tspan x="29" y="2408.9">by taxa A</tspan></text>
<path class="bl" d="M119.7,2372.7 L130.9,2372.7"/>
<text class="s15" x="136.4" y="2377.8">Reactions<tspan x="136.4" y="2393.4">carried out</tspan><tspan x="136.4" y="2408.9">by taxa B</tspan></text>
<path class="cr" d="M230.5,2372.7 L241.6,2372.7"/>
<text class="s15" x="247.2" y="2377.8">Reactions<tspan x="247.2" y="2393.4">carried out</tspan><tspan x="247.2" y="2408.9">by taxa C</tspan></text>
</g>
<g id="G-predenv">
<rect class="bx" x="342" y="2161.8" width="86.6" height="91.5"/>
<circle class="nG" cx="387.7" cy="2175.4" r="7"/>
<circle class="nG" cx="358.7" cy="2191.8" r="7"/>
<circle class="nG" cx="410.8" cy="2194.9" r="7"/>
<circle class="nG" cx="412.6" cy="2211.6" r="7"/>
<circle class="nG" cx="357.6" cy="2221" r="7"/>
<text class="s15 m" x="385.1" y="2306.6">Predicted<tspan x="385.1" y="2322.5">environment</tspan></text>
</g>
<g id="G-chevrons">
<g transform="translate(0,500)">
<path class="chev" opacity="0.3" d="M458.4,1630 L502.6,1698.3 L458.4,1766"/>
<path class="chev" opacity="0.6" d="M504.8,1630 L549.4,1698.3 L504.8,1766"/>
<path class="chev" d="M553.9,1630 L598.6,1698.3 L553.9,1766"/>
</g>
<text class="s15 m" x="529.8" y="2306.6">Network “expansion”<tspan x="529.8" y="2322.5">simulating activity in the</tspan><tspan x="529.8" y="2338.1">selected environment.</tspan><tspan x="529.8" y="2353.7">Simulations are</tspan><tspan x="529.8" y="2370">carried iteratively, with</tspan><tspan x="529.8" y="2386">a single taxonomic</tspan><tspan x="529.8" y="2401.9">group at a time.</tspan></text>
</g>
<g id="G-full">
<rect class="bxb" x="631.3" y="1944.7" width="253.6" height="232.7"/>
<text class="s13 sb m" x="757.7" y="1966.5">FULL NETWORK</text>
<path class="lb" d="M710,2016.5L688,2047.6"/>
<path class="cr" style="stroke-width:1.6" d="M721.1,2019L725.2,2045.1"/>
<path class="cr" style="stroke-width:1.6" d="M716.8,2070.3L701.2,2085.3"/>
<path class="cr" style="stroke-width:1.6" d="M731.1,2074.5L736.4,2095.9"/>
<path class="lb" d="M773.9,2100.1L754.2,2106.1"/>
<path class="lb" d="M802.5,2100.1L822.2,2106.1"/>
<path class="lb" d="M779.1,2083.8L727.8,2016.1"/>
<path class="lb" d="M752.9,2118L775.2,2131"/>
<g id="G-f0"><circle class="nG" cx="718.7" cy="2004.2" r="11.5"/></g>
<g id="G-f1"><circle class="nB" cx="679.3" cy="2059.9" r="11.5"/></g>
<g id="G-f2"><circle class="nC" cx="727.6" cy="2059.9" r="11.5"/></g>
<g id="G-f3"><circle class="nC" cx="690.4" cy="2095.7" r="11.5"/></g>
<g id="G-f4"><circle class="nG" cx="788.2" cy="2095.7" r="11.5"/></g>
<g id="G-f5"><circle class="nB" cx="739.9" cy="2110.5" r="11.5"/></g>
<g id="G-f6"><circle class="nB" cx="836.5" cy="2110.5" r="11.5"/></g>
<g id="G-f7"><circle class="nB" cx="788.2" cy="2138.5" r="11.5"/></g>
<path class="pt" d="M769,2014 C772,2050 762,2059 743,2060"/>
<text class="s145" x="776.3" y="2015.9">Missing<tspan x="776.3" y="2031.5">compounds in</tspan><tspan x="776.3" y="2047">the "knockout"</tspan><tspan x="776.3" y="2063.4">network</tspan></text>
</g>
<g id="G-ko">
<rect class="bxb" x="631.3" y="2189" width="253.6" height="232.8"/>
<text class="s13 sb m" x="757.7" y="2217">"KNOCKOUT" NETWORK<tspan x="757.7" y="2232.6">(- TAXA C)</tspan></text>
<g transform="translate(0,257.5)">
<path class="lb" d="M710,2016.5L688,2047.6"/>
<path class="lb" d="M773.9,2100.1L754.2,2106.1"/>
<path class="lb" d="M802.5,2100.1L822.2,2106.1"/>
<path class="lb" d="M779.1,2083.8L727.8,2016.1"/>
<path class="lb" d="M752.9,2118L775.2,2131"/>
<g id="G-k0"><circle class="nG" cx="718.7" cy="2004.2" r="11.5"/></g>
<g id="G-k1"><circle class="nB" cx="679.3" cy="2059.9" r="11.5"/></g>
<g id="G-k4"><circle class="nG" cx="788.2" cy="2095.7" r="11.5"/></g>
<g id="G-k5"><circle class="nB" cx="739.9" cy="2110.5" r="11.5"/></g>
<g id="G-k6"><circle class="nB" cx="836.5" cy="2110.5" r="11.5"/></g>
<g id="G-k7"><circle class="nB" cx="788.2" cy="2138.5" r="11.5"/></g>
</g>
</g>
<text class="b m" x="1029.1" y="2029.5" style="font-size:15.3px">Prediction of taxa-dependent<tspan x="1029.1" y="2045.1">compounds in the full network</tspan></text>
<g id="G-taxaA">
<rect class="bx" x="936.9" y="2069.6" width="86.6" height="109" stroke="#f6cf6e" stroke-width="1.5"/>
<circle class="nY" cx="982.6" cy="2096.5" r="7"/>
<circle class="nY" cx="954" cy="2113.2" r="7"/>
<circle class="nY" cx="1006" cy="2116.3" r="7"/>
<circle class="nY" cx="1007.5" cy="2132.6" r="7"/>
<circle class="nY" cx="952.1" cy="2142.4" r="7"/>
<text class="s145 m" x="980" y="2169.6">taxa A</text>
</g>
<g id="G-taxaB">
<rect class="bx" x="936.9" y="2189" width="86.6" height="109" stroke="#7d9de6" stroke-width="1.5"/>
<circle class="nD" cx="982.6" cy="2215.5" r="7"/>
<circle class="nD" cx="954" cy="2232.3" r="7"/>
<circle class="nD" cx="1006" cy="2235.8" r="7"/>
<circle class="nD" cx="1007.5" cy="2252.1" r="7"/>
<circle class="nD" cx="952.1" cy="2261.4" r="7"/>
<text class="s145 m" x="980" y="2288.3">taxa B</text>
</g>
<g id="G-taxaC">
<rect class="bx" x="1035.4" y="2128.8" width="86.6" height="108.9" stroke="#f2a0b6" stroke-width="1.5"/>
<circle class="nC" cx="1081.5" cy="2156" r="7"/>
<circle class="nC" cx="1052.5" cy="2172.3" r="7"/>
<circle class="nC" cx="1104.6" cy="2176.2" r="7"/>
<circle class="nC" cx="1106" cy="2192.2" r="7"/>
<circle class="nC" cx="1051.4" cy="2201.5" r="7"/>
<text class="s145 m" x="1078.5" y="2228">taxa C</text>
</g>
</g>
</svg>
